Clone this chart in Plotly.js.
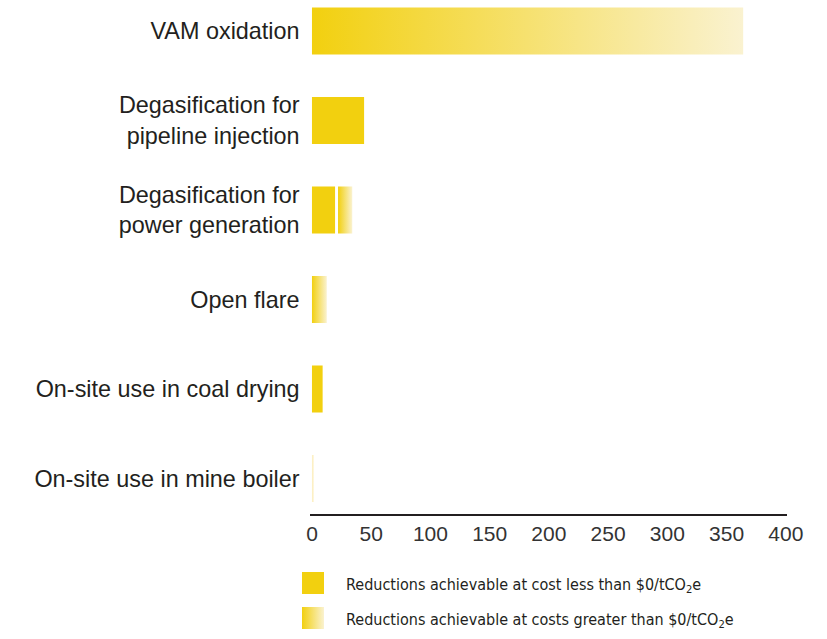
<!DOCTYPE html>
<html>
<head>
<meta charset="utf-8">
<script src="https://cdn.plot.ly/plotly-3.0.1.min.js"></script>
<style>html,body{margin:0;padding:0;background:#fff;}#chart{width:827px;height:639px;}</style>
</head>
<body>
<div id="chart"></div>
<script>
// ---- data ----
const categories = [
  "VAM oxidation",
  "Degasification for<br>pipeline injection",
  "Degasification for<br>power generation",
  "Open flare",
  "On-site use in coal drying",
  "On-site use in mine boiler"
];
const lessThanZero = [0, 44, 19.5, 0, 9, 0];        // solid yellow
const greaterThanZero = [364, 0, 12, 12.5, 0, 1.5]; // gradient
const xTicks = [0, 50, 100, 150, 200, 250, 300, 350, 400];
const legendLabels = [
  "Reductions achievable at cost less than $0/tCO<sub>2</sub>e",
  "Reductions achievable at costs greater than $0/tCO<sub>2</sub>e"
];

// ---- style ----
const W = 827, H = 639;
const SOLID = '#F2D00F';
const PALE = '#FAF2D0';
const TXT = '#231F20';
const BARW = 0.525;
const GAP = 2.5; // visual gap between solid and gradient parts
const gradScale = [[0, SOLID], [1, PALE]];
const thinScale = [[0, '#FCEFBF'], [1, '#FDF3D2']];
const mainFont = 'Liberation Sans, Arial, sans-serif';
const narrowFont = 'DejaVu Sans Condensed, Liberation Sans Narrow, sans-serif';

const idx = categories.map((_, i) => i);
const traces = [];

traces.push({
  type: 'bar', orientation: 'h', x: lessThanZero, y: idx, width: BARW,
  marker: {color: SOLID, line: {width: 0}}, hoverinfo: 'skip', showlegend: false
});

idx.forEach(i => {
  if (greaterThanZero[i] <= 0) return;
  const x0 = lessThanZero[i] > 0 ? lessThanZero[i] + GAP : 0;
  const x1 = x0 + greaterThanZero[i];
  const h = BARW / 2;
  traces.push({
    type: 'scatter', mode: 'none', fill: 'toself',
    x: [x0, x1, x1, x0, x0], y: [i - h, i - h, i + h, i + h, i - h],
    fillgradient: {type: 'horizontal', colorscale: greaterThanZero[i] < 3 ? thinScale : gradScale},
    hoverinfo: 'skip', showlegend: false
  });
});

// legend swatches (pixel space overlay axes)
const sw = [{x: 302, y: 572}, {x: 302, y: 607}];
const swW = 22, swH = 22;
traces.push({
  type: 'scatter', mode: 'none', fill: 'toself', xaxis: 'x2', yaxis: 'y2',
  x: [sw[0].x, sw[0].x + swW, sw[0].x + swW, sw[0].x, sw[0].x],
  y: [sw[0].y, sw[0].y, sw[0].y + swH, sw[0].y + swH, sw[0].y],
  fillcolor: SOLID, hoverinfo: 'skip', showlegend: false
});
traces.push({
  type: 'scatter', mode: 'none', fill: 'toself', xaxis: 'x2', yaxis: 'y2',
  x: [sw[1].x, sw[1].x + swW, sw[1].x + swW, sw[1].x, sw[1].x],
  y: [sw[1].y, sw[1].y, sw[1].y + swH, sw[1].y + swH, sw[1].y],
  fillgradient: {type: 'horizontal', colorscale: gradScale},
  hoverinfo: 'skip', showlegend: false
});

const layout = {
  width: W, height: H,
  margin: {l: 0, r: 0, t: 0, b: 0},
  paper_bgcolor: '#fff', plot_bgcolor: 'rgba(0,0,0,0)',
  showlegend: false,
  xaxis: {
    domain: [309.6 / W, 787 / W], anchor: 'y',
    range: [-2, 401], tickvals: xTicks, ticktext: xTicks.map(String),
    showgrid: false, zeroline: false, showline: true, linecolor: TXT, linewidth: 1.5,
    ticks: '', tickfont: {family: mainFont, size: 21, color: '#333'}, fixedrange: true
  },
  yaxis: {
    domain: [125 / H, 1], anchor: 'x',
    range: [5.396, -0.346], tickvals: idx, ticktext: categories,
    showgrid: false, zeroline: false, showline: false, ticks: '',
    ticklabelstandoff: 9,
    tickfont: {family: mainFont, size: 23.4, color: TXT}, fixedrange: true
  },
  xaxis2: {domain: [0, 1], anchor: 'y2', range: [0, W], visible: false, fixedrange: true},
  yaxis2: {domain: [0, 1], anchor: 'x2', range: [H, 0], visible: false, fixedrange: true},
  annotations: legendLabels.map((t, k) => ({
    xref: 'paper', yref: 'paper', x: 344 / W, y: 1 - (sw[k].y + swH / 2 + 2) / H,
    xanchor: 'left', yanchor: 'middle', showarrow: false, text: t,
    font: {family: narrowFont, size: 16, color: TXT}
  }))
};

Plotly.newPlot('chart', traces, layout, {staticPlot: true, displayModeBar: false});
</script>
</body>
</html>
